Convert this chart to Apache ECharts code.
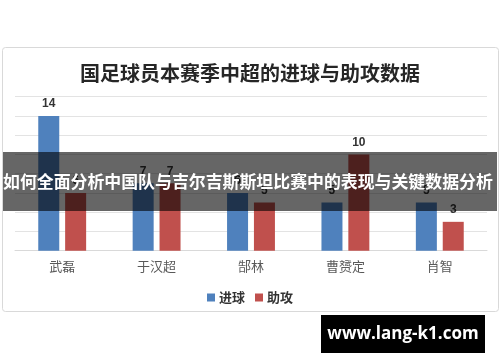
<!DOCTYPE html>
<html>
<head>
<meta charset="utf-8">
<script src="https://cdn.jsdelivr.net/npm/echarts@6/dist/echarts.min.js"></script>
<style>
html,body{margin:0;padding:0;background:#fff;}
#chart{width:500px;height:362px;}
</style>
</head>
<body>
<div id="chart"></div>
<script>
const titleText = '国足球员本赛季中超的进球与助攻数据';
const players = ['武磊', '于汉超', '郜林', '曹赟定', '肖智'];
const goals = [14, 7, 6, 5, 5];
const assists = [6, 7, 5, 10, 3];
const seriesNames = ['进球', '助攻'];
const bannerText = '如何全面分析中国队与吉尔吉斯斯坦比赛中的表现与关键数据分析';
const watermarkText = 'www.lang-k1.com';

const chart = echarts.init(document.getElementById('chart'), null, {renderer: 'canvas'});
const labelStyle = {show: true, position: 'top', distance: 6, fontSize: 12, fontWeight: 'bold', color: '#333', fontFamily: 'Arial, "Noto Sans CJK SC", sans-serif'};
chart.setOption({
  animation: false,
  backgroundColor: '#fff',
  title: {
    text: titleText, left: 'center', top: 58,
    textStyle: {fontSize: 20, fontWeight: 'bold', color: '#262626', fontFamily: '"Noto Sans CJK SC", sans-serif'}
  },
  legend: {
    data: seriesNames, left: 'center', top: 286, itemWidth: 8, itemHeight: 8, itemGap: 10,
    icon: 'rect',
    textStyle: {fontSize: 13, fontWeight: 'bold', color: '#333', fontFamily: '"Noto Sans CJK SC", sans-serif', padding: [0,0,0,-1]}
  },
  grid: {left: 15, right: 13, top: 96.7, bottom: 111.3, containLabel: false},
  xAxis: {
    type: 'category', data: players,
    axisLine: {lineStyle: {color: '#d9d9d9'}}, axisTick: {show: false},
    axisLabel: {fontSize: 13, color: '#595959', margin: 9, fontFamily: '"Noto Sans CJK SC", sans-serif'}
  },
  yAxis: {
    type: 'value', min: 0, max: 16, interval: 2,
    axisLabel: {show: false}, axisLine: {show: false}, axisTick: {show: false},
    splitLine: {lineStyle: {color: '#e3e3e3'}}
  },
  series: [
    {name: seriesNames[0], type: 'bar', data: goals, barWidth: 21, barGap: '28%', itemStyle: {color: '#4f81bd'}, label: labelStyle},
    {name: seriesNames[1], type: 'bar', data: assists, barWidth: 21, itemStyle: {color: '#c0504d'}, label: labelStyle}
  ],
  graphic: [
    {type: 'rect', shape: {x: 2.5, y: 47.5, width: 496, height: 264, r: 3}, style: {fill: 'none', stroke: '#d9d9d9', lineWidth: 1}, z: -10},
    {type: 'rect', shape: {x: 3, y: 152, width: 494, height: 59}, style: {fill: 'rgba(0,0,0,0.6)'}, z: 100},
    {type: 'text', x: 3, y: 182, z: 101, style: {text: bannerText, fill: '#fff', font: 'bold 16.9px "Noto Sans CJK SC", sans-serif', textAlign: 'left', textVerticalAlign: 'middle'}},
    {type: 'rect', shape: {x: 321, y: 315, width: 164, height: 38}, style: {fill: '#000'}, z: 100},
    {type: 'text', x: 403, y: 334, z: 101, style: {text: watermarkText, fill: '#fff', font: 'bold 17px "Open Sans", sans-serif', textAlign: 'center', textVerticalAlign: 'middle'}}
  ]
});
</script>
</body>
</html>
